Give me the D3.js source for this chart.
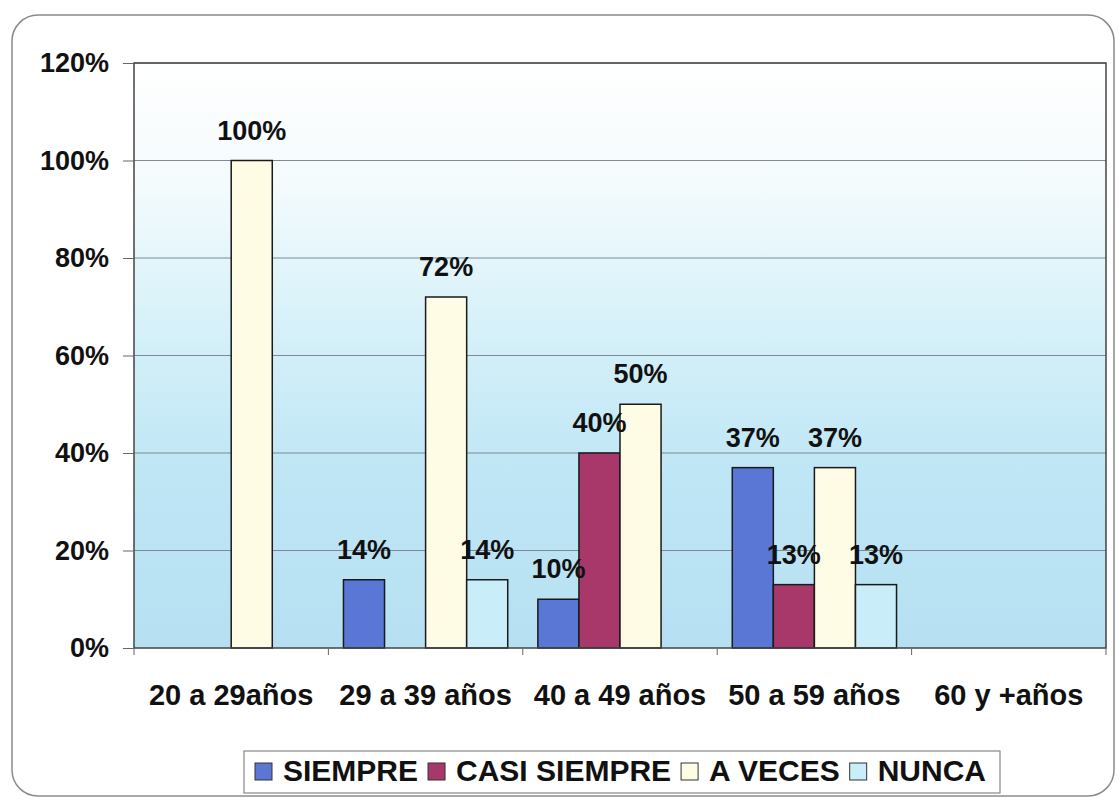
<!DOCTYPE html>
<html>
<head>
<meta charset="utf-8">
<script src="https://cdn.jsdelivr.net/npm/d3@7"></script>
<style>
  body { margin: 0; background: #fff; }
  text { font-family: "Liberation Sans", Arial, sans-serif; font-weight: bold; fill: #111; }
</style>
</head>
<body>
<div id="chart"></div>
<script>
// Chart data
var categories = ["20 a 29años", "29 a 39 años", "40 a 49 años", "50 a 59 años", "60 y +años"];
var seriesNames = ["SIEMPRE", "CASI SIEMPRE", "A VECES", "NUNCA"];
var siempre     = [0, 0.14, 0.10, 0.37, 0];
var casiSiempre = [0, 0,    0.40, 0.13, 0];
var aVeces      = [1.00, 0.72, 0.50, 0.37, 0];
var nunca       = [0, 0.14, 0,    0.13, 0];
var yTicks = [0, 0.2, 0.4, 0.6, 0.8, 1.0, 1.2];

var seriesValues = [siempre, casiSiempre, aVeces, nunca];
var colors = ["#5a77d6", "#a8386a", "#fffce6", "#c9eefa"];

var width = 1119, height = 800;
var margin = {top: 63, left: 134, bottom: 152, right: 13};

var svg = d3.select("#chart").append("svg")
    .attr("width", width)
    .attr("height", height);

// Outer rounded frame
svg.append("rect")
    .attr("x", 12).attr("y", 15)
    .attr("width", 1102).attr("height", 781)
    .attr("rx", 26)
    .attr("fill", "#fff")
    .attr("stroke", "#8a8a8a")
    .attr("stroke-width", 1.5);

var plotW = width - margin.left - margin.right;
var plotH = height - margin.top - margin.bottom;

var g = svg.append("g").attr("transform", "translate(" + [margin.left, margin.top] + ")");

// Scales
var x0 = d3.scaleBand().domain(categories).range([0, plotW])
    .paddingInner(0.155).paddingOuter(0.0775);
var x1 = d3.scaleBand().domain(seriesNames).range([0, x0.bandwidth()]);
var y = d3.scaleLinear().domain([0, 1.2]).range([plotH, 0]);

// Background gradient of the plot area
var grad = svg.append("defs").append("linearGradient")
    .attr("id", "bg").attr("x1", 0).attr("y1", 0).attr("x2", 0).attr("y2", 1);
grad.append("stop").attr("offset", "0%").attr("stop-color", "#ffffff");
grad.append("stop").attr("offset", "20%").attr("stop-color", "#f4fbfd");
grad.append("stop").attr("offset", "45%").attr("stop-color", "#d6f1f9");
grad.append("stop").attr("offset", "70%").attr("stop-color", "#bfe6f5");
grad.append("stop").attr("offset", "100%").attr("stop-color", "#b6e0f2");

g.append("rect")
    .attr("width", plotW).attr("height", plotH)
    .attr("fill", "url(#bg)");

// Gridlines
g.selectAll(".grid").data(yTicks.slice(1)).enter()
    .append("line")
    .attr("x1", 0).attr("x2", plotW)
    .attr("y1", function(d) { return y(d); })
    .attr("y2", function(d) { return y(d); })
    .attr("stroke", "#7d8a94")
    .attr("stroke-width", 1.2);

// Bars
var groups = g.selectAll(".grp").data(categories).enter()
    .append("g")
    .attr("transform", function(d) { return "translate(" + x0(d) + ",0)"; });

groups.selectAll("rect")
    .data(function(c, i) {
        return seriesNames.map(function(s, j) { return {s: s, v: seriesValues[j][i], c: colors[j]}; })
            .filter(function(d) { return d.v > 0; });
    })
    .enter().append("rect")
    .attr("x", function(d) { return x1(d.s); })
    .attr("y", function(d) { return y(d.v); })
    .attr("width", x1.bandwidth())
    .attr("height", function(d) { return plotH - y(d.v); })
    .attr("fill", function(d) { return d.c; })
    .attr("stroke", "#1a1a1a")
    .attr("stroke-width", 1.5);

// Value labels
groups.selectAll(".lbl")
    .data(function(c, i) {
        return seriesNames.map(function(s, j) { return {s: s, v: seriesValues[j][i]}; })
            .filter(function(d) { return d.v > 0; });
    })
    .enter().append("text")
    .attr("x", function(d) { return x1(d.s) + x1.bandwidth() / 2; })
    .attr("y", function(d) { return y(d.v) - 21; })
    .attr("text-anchor", "middle")
    .style("font-size", "27px")
    .text(function(d) { return Math.round(d.v * 100) + "%"; });

// Plot border
g.append("rect")
    .attr("width", plotW).attr("height", plotH)
    .attr("fill", "none")
    .attr("stroke", "#444")
    .attr("stroke-width", 1.5);

// Y axis
var yAxis = d3.axisLeft(y).tickValues(yTicks).tickFormat(d3.format(".0%")).tickSize(11).tickPadding(14);
var yAxisG = g.append("g").call(yAxis);
yAxisG.select(".domain").remove();
yAxisG.selectAll("line").attr("stroke", "#666");
yAxisG.selectAll("text").style("font-size", "27px").attr("fill", "#111");

// X axis with ticks on category boundaries
var xAxisG = g.append("g").attr("transform", "translate(0," + plotH + ")");
xAxisG.selectAll("line").data(d3.range(categories.length + 1)).enter()
    .append("line")
    .attr("x1", function(i) { return i * plotW / categories.length; })
    .attr("x2", function(i) { return i * plotW / categories.length; })
    .attr("y1", 0).attr("y2", 7)
    .attr("stroke", "#666");
xAxisG.selectAll("text").data(categories).enter()
    .append("text")
    .attr("x", function(d) { return x0(d) + x0.bandwidth() / 2; })
    .attr("y", 57)
    .attr("text-anchor", "middle")
    .style("font-size", "29px")
    .text(function(d) { return d; });

// Legend
var legend = svg.append("g");
legend.append("rect")
    .attr("x", 244).attr("y", 751)
    .attr("width", 756).attr("height", 42)
    .attr("fill", "#fff")
    .attr("stroke", "#888")
    .attr("stroke-width", 1.2);

var items = legend.selectAll(".item").data(seriesNames).enter().append("g");
items.append("rect")
    .attr("width", 17).attr("height", 17)
    .attr("y", 763)
    .attr("fill", function(d, i) { return colors[i]; })
    .attr("stroke", "#333")
    .attr("stroke-width", 1);
items.append("text")
    .attr("y", 781)
    .style("font-size", "30px")
    .text(function(d) { return d; });

// Place legend items side by side
var lx = 255;
items.each(function() {
    var it = d3.select(this);
    it.select("rect").attr("x", lx);
    it.select("text").attr("x", lx + 28);
    lx += 28 + it.select("text").node().getComputedTextLength() + 10;
});
</script>
</body>
</html>
